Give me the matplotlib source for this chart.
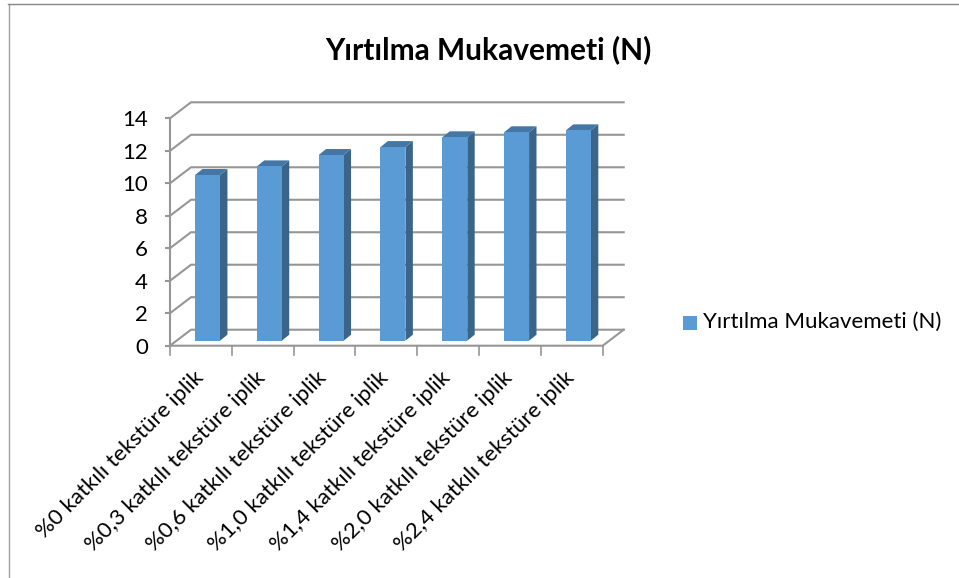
import matplotlib
matplotlib.use("Agg")
import matplotlib.pyplot as plt

plt.rcParams['font.family'] = ['Lato', 'DejaVu Sans']

categories = ["%0 katkılı tekstüre iplik", "%0,3 katkılı tekstüre iplik",
              "%0,6 katkılı tekstüre iplik", "%1,0 katkılı tekstüre iplik",
              "%1,4 katkılı tekstüre iplik", "%2,0 katkılı tekstüre iplik",
              "%2,4 katkılı tekstüre iplik"]
values = [10.2, 10.73, 11.43, 11.92, 12.52, 12.83, 12.95]
y_ticks = [0, 2, 4, 6, 8, 10, 12, 14]
series_name = "Yırtılma Mukavemeti (N)"

W, H = 959, 578
fig = plt.figure(figsize=(W / 100, H / 100), dpi=100)

# front plane of the 3d box
left, right, bottom, top = 170, 602.7, 345.7, 118.3
ax = fig.add_axes([left / W, 1 - bottom / H, (right - left) / W, (bottom - top) / H])
ax.set_xlim(0, 7)
ax.set_ylim(0, 14)
ax.patch.set_alpha(0)
for s in ax.spines.values():
    s.set_visible(False)

# oblique depth, in data units
depth_x = 21 / ((right - left) / 7)
depth_y = 16 / ((bottom - top) / 14)
bar_w = 0.404
bar_shift_x = 0.107
bar_shift_y = 0.308
bar_dx = 0.12
bar_dy = 0.37

grid = "#969696"
front = "#5b9bd5"
side = "#3a6488"
roof = "#4477a6"

for t in y_ticks:
    ax.plot([0, depth_x, 7 + depth_x], [t, t + depth_y, t + depth_y], color=grid, lw=1.5,
            clip_on=False, zorder=1, solid_joinstyle="miter")
    ax.plot([-0.07, 0], [t, t], color=grid, lw=1.5, clip_on=False, zorder=1)
ax.plot([0, 0], [0, 14], color=grid, lw=1.5, clip_on=False, zorder=1)
ax.plot([0, 7, 7 + depth_x], [0, 0, depth_y], color=grid, lw=1.5, clip_on=False, zorder=1)
for i in range(8):
    ax.plot([i, i], [0, -0.6], color=grid, lw=1.2, clip_on=False, zorder=1)

for i, v in enumerate(values):
    x0 = i + 0.5 - bar_w / 2 + bar_shift_x
    x1 = x0 + bar_w
    y0 = bar_shift_y
    y1 = y0 + v
    ax.fill([x1, x1 + bar_dx, x1 + bar_dx, x1], [y0, y0 + bar_dy, y1 + bar_dy, y1],
            color=side, lw=0, clip_on=False, zorder=3)
    ax.fill([x0, x1, x1 + bar_dx, x0 + bar_dx], [y1, y1, y1 + bar_dy, y1 + bar_dy],
            color=roof, lw=0, clip_on=False, zorder=3)
    ax.bar(x0, v, bar_w, bottom=y0, align="edge", color=front, lw=0, clip_on=False, zorder=4)

ax.set_xticks([])
ax.set_yticks(y_ticks)
ax.tick_params(axis="y", length=0, pad=16, labelsize=16, labelcolor="black")

for i, c in enumerate(categories):
    ax.annotate(c, (i + 0.5, 0), xytext=(-8, -22), textcoords="offset pixels", rotation=45,
                rotation_mode="anchor", ha="right", va="top", fontsize=16, color="black",
                annotation_clip=False)

fig.text(488 / W, 1 - 50 / H, series_name, ha="center", va="center", fontsize=21.5,
         fontweight="bold", color="black")

# legend
fig.patches.append(plt.Rectangle((683 / W, 1 - 330 / H), 14 / W, 14 / H, transform=fig.transFigure,
                                 facecolor=front, lw=0))
fig.text(703 / W, 1 - 322 / H, series_name, ha="left", va="center", fontsize=16, color="black")

# chart border
fig.add_artist(plt.Line2D([8.5 / W, 8.5 / W], [0, 1 - 3.5 / H], color="#a0a0a0", lw=1))
fig.add_artist(plt.Line2D([8 / W, 1], [1 - 3.5 / H, 1 - 3.5 / H], color="#868686", lw=1))

fig.savefig("out.png", dpi=100)
